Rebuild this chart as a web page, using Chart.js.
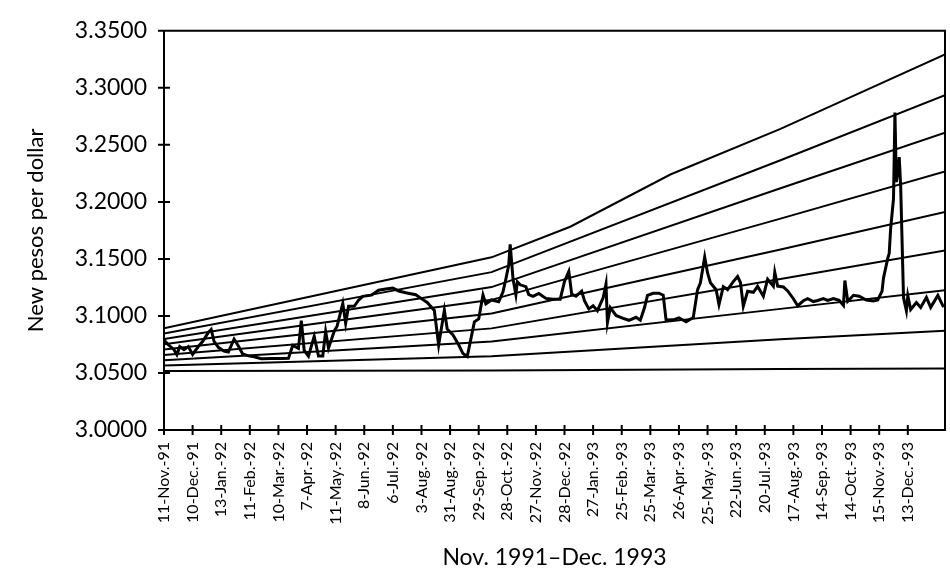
<!DOCTYPE html>
<html>
<head>
<meta charset="utf-8">
<title>New pesos per dollar, Nov. 1991–Dec. 1993</title>
<script src="https://cdn.jsdelivr.net/npm/chart.js@4.4.1/dist/chart.umd.min.js"></script>
<style>
  html, body { margin: 0; padding: 0; background: #fff; }
  canvas { display: block; }
</style>
</head>
<body>
<canvas id="pesoChart" width="950" height="573"></canvas>
<script>
// x axis counts trading days from 11-Nov-91, one label every 20 trading days
const tickLabels = [
    '11-Nov.-91', '10-Dec.-91', '13-Jan.-92', '11-Feb.-92', '10-Mar.-92', '7-Apr.-92',
    '11-May.-92', '8-Jun.-92', '6-Jul.-92', '3-Aug.-92', '31-Aug.-92', '29-Sep.-92',
    '28-Oct.-92', '27-Nov.-92', '28-Dec.-92', '27-Jan.-93', '25-Feb.-93', '25-Mar.-93',
    '26-Apr.-93', '25-May.-93', '22-Jun.-93', '20-Jul.-93', '17-Aug.-93', '14-Sep.-93',
    '14-Oct.-93', '15-Nov.-93', '13-Dec.-93'
];
const tickEvery = 20;
const lastDay = 546;
const yTicks = [3.0, 3.05, 3.1, 3.15, 3.2, 3.25, 3.3, 3.35];

// exchange rate (trading day, pesos per dollar)
const rateDays = [
    0, 3, 7, 9, 11, 14, 17, 20, 24, 27, 31, 33, 35, 38, 42, 45, 49, 52, 55, 59,
    63, 68, 75, 82, 87, 90, 94, 96, 98, 101, 105, 108, 111, 113, 115, 119, 121, 125, 127, 129,
    133, 136, 139, 145, 150, 155, 160, 164, 169, 176, 181, 184, 189, 192, 196, 198, 202, 206, 209, 212,
    217, 220, 223, 225, 229, 234, 237, 239, 241, 242, 244, 246, 247, 249, 253, 255, 258, 262, 267, 272,
    277, 280, 283, 285, 288, 292, 294, 297, 300, 303, 307, 309, 310, 312, 316, 321, 325, 330, 333, 336,
    338, 342, 346, 349, 351, 356, 360, 365, 370, 373, 375, 378, 380, 382, 386, 388, 391, 394, 398, 401,
    403, 405, 408, 412, 415, 419, 422, 426, 427, 429, 433, 436, 440, 443, 447, 450, 454, 457, 461, 464,
    468, 472, 475, 476, 478, 482, 486, 491, 496, 499, 502, 503, 506, 507, 508, 510, 511, 512, 513, 514,
    515, 517, 519, 520, 522, 526, 529, 533, 536, 541, 545
];
const rateValues = [
    3.0790, 3.0747, 3.0704, 3.0661, 3.0731, 3.0705, 3.0731, 3.0663, 3.0732, 3.0776, 3.0855, 3.0881, 3.0777, 3.0725, 3.0691, 3.0683, 3.0796, 3.0736, 3.0667, 3.0650,
    3.0642, 3.0625, 3.0626, 3.0627, 3.0628, 3.0741, 3.0716, 3.0959, 3.0698, 3.0647, 3.0821, 3.0648, 3.0648, 3.0865, 3.0718, 3.0866, 3.0910, 3.1110, 3.0936, 3.1085,
    3.1085, 3.1138, 3.1172, 3.1182, 3.1226, 3.1236, 3.1244, 3.1219, 3.1203, 3.1186, 3.1143, 3.1118, 3.1048, 3.0745, 3.1050, 3.0885, 3.0833, 3.0747, 3.0670, 3.0644,
    3.0948, 3.0974, 3.1184, 3.1106, 3.1140, 3.1124, 3.1211, 3.1324, 3.1446, 3.1628, 3.1325, 3.1186, 3.1299, 3.1273, 3.1257, 3.1187, 3.1171, 3.1197, 3.1154, 3.1146,
    3.1147, 3.1303, 3.1390, 3.1192, 3.1174, 3.1218, 3.1132, 3.1062, 3.1089, 3.1046, 3.1159, 3.1281, 3.0942, 3.1073, 3.1004, 3.0979, 3.0962, 3.0988, 3.0963, 3.1076,
    3.1180, 3.1198, 3.1199, 3.1182, 3.0965, 3.0966, 3.0984, 3.0949, 3.0985, 3.1229, 3.1290, 3.1516, 3.1377, 3.1291, 3.1230, 3.1100, 3.1257, 3.1231, 3.1301, 3.1345,
    3.1293, 3.1085, 3.1216, 3.1207, 3.1260, 3.1173, 3.1322, 3.1261, 3.1383, 3.1262, 3.1254, 3.1219, 3.1151, 3.1090, 3.1133, 3.1152, 3.1126, 3.1135, 3.1152, 3.1136,
    3.1153, 3.1137, 3.1093, 3.1311, 3.1129, 3.1181, 3.1173, 3.1139, 3.1132, 3.1140, 3.1218, 3.1332, 3.1506, 3.1549, 3.1766, 3.2028, 3.2784, 3.2175, 3.2262, 3.2393,
    3.2141, 3.1160, 3.1047, 3.1178, 3.1056, 3.1118, 3.1074, 3.1162, 3.1075, 3.1180, 3.1077
];

// top line of the fan (bends more, so a few extra readings)
const ceilingDays = [0, 229, 284, 354, 431, 546];
const ceilingValues = [3.0892, 3.1514, 3.1782, 3.2240, 3.2640, 3.3292];

// the other fan lines, top to bottom (band9 = floor)
const bandDays = [0, 229, 431, 546];
const band2 = [3.0845, 3.1384, 3.2365, 3.2936];
const band3 = [3.0798, 3.1253, 3.2119, 3.2606];
const band4 = [3.0752, 3.1141, 3.1853, 3.2267];
const band5 = [3.0705, 3.1022, 3.1583, 3.1911];
const band6 = [3.0658, 3.0891, 3.1323, 3.1573];
const band7 = [3.0611, 3.0776, 3.1062, 3.1226];
const band8 = [3.0565, 3.0646, 3.0796, 3.0870];
const band9 = [3.0518, 3.0521, 3.0535, 3.0540];

function toPoints(days, values) {
    return days.map((d, i) => ({ x: d, y: values[i] }));
}

function fanLine(values) {
    return {
        data: toPoints(bandDays, values),
        borderColor: '#000',
        borderWidth: 2,
        pointRadius: 0,
        tension: 0
    };
}

// box on top/right plus ticks that cross the axes
const frameAndTicks = {
    id: 'frameAndTicks',
    afterDraw(chart) {
        const { ctx, chartArea: a, scales: { x, y } } = chart;
        ctx.save();
        ctx.strokeStyle = '#000';
        ctx.lineWidth = 2;
        ctx.beginPath();
        ctx.moveTo(a.left, a.top);
        ctx.lineTo(a.right, a.top);
        ctx.lineTo(a.right, a.bottom);
        x.ticks.forEach(t => {
            const px = x.getPixelForValue(t.value);
            ctx.moveTo(px, a.bottom - 5);
            ctx.lineTo(px, a.bottom + 5);
        });
        y.ticks.forEach(t => {
            const py = y.getPixelForValue(t.value);
            ctx.moveTo(a.left - 6, py);
            ctx.lineTo(a.left + 6, py);
        });
        ctx.stroke();
        ctx.restore();
    }
};

Chart.defaults.font.family = 'Lato';
Chart.defaults.color = '#000';

new Chart(document.getElementById('pesoChart'), {
    type: 'line',
    data: {
        datasets: [
            {
                data: toPoints(rateDays, rateValues),
                borderColor: '#000',
                borderWidth: 3,
                pointRadius: 0,
                tension: 0
            },
            {
                data: toPoints(ceilingDays, ceilingValues),
                borderColor: '#000',
                borderWidth: 2,
                pointRadius: 0,
                tension: 0
            },
            fanLine(band2), fanLine(band3), fanLine(band4), fanLine(band5),
            fanLine(band6), fanLine(band7), fanLine(band8), fanLine(band9)
        ]
    },
    options: {
        responsive: false,
        animation: false,
        devicePixelRatio: 1,
        layout: { padding: { left: 10, top: 27, right: 5, bottom: 0 } },
        plugins: {
            legend: { display: false },
            tooltip: { enabled: false }
        },
        scales: {
            x: {
                type: 'linear',
                min: 0,
                max: lastDay,
                grid: { display: false, drawTicks: false },
                border: { display: true, color: '#000', width: 2 },
                afterBuildTicks: scale => {
                    scale.ticks = tickLabels.map((_, i) => ({ value: i * tickEvery }));
                },
                afterFit: scale => { scale.height = 143; },
                ticks: {
                    autoSkip: false,
                    minRotation: 90,
                    maxRotation: 90,
                    padding: 12,
                    font: { size: 16 },
                    callback: value => tickLabels[Math.round(value / tickEvery)]
                },
                title: {
                    display: true,
                    text: 'Nov. 1991–Dec. 1993',
                    font: { size: 23 },
                    padding: { top: 0, bottom: 2 }
                }
            },
            y: {
                min: 3.0,
                max: 3.35,
                grid: { display: false, drawTicks: false },
                border: { display: true, color: '#000', width: 2 },
                afterBuildTicks: scale => {
                    scale.ticks = yTicks.map(v => ({ value: v }));
                },
                afterFit: scale => { scale.width = 154; },
                ticks: {
                    padding: 17,
                    font: { size: 23 },
                    callback: value => value.toFixed(4)
                },
                title: {
                    display: true,
                    text: 'New pesos per dollar',
                    font: { size: 22 },
                    padding: { top: 13, bottom: 0 }
                }
            }
        }
    },
    plugins: [frameAndTicks]
});
</script>
</body>
</html>
